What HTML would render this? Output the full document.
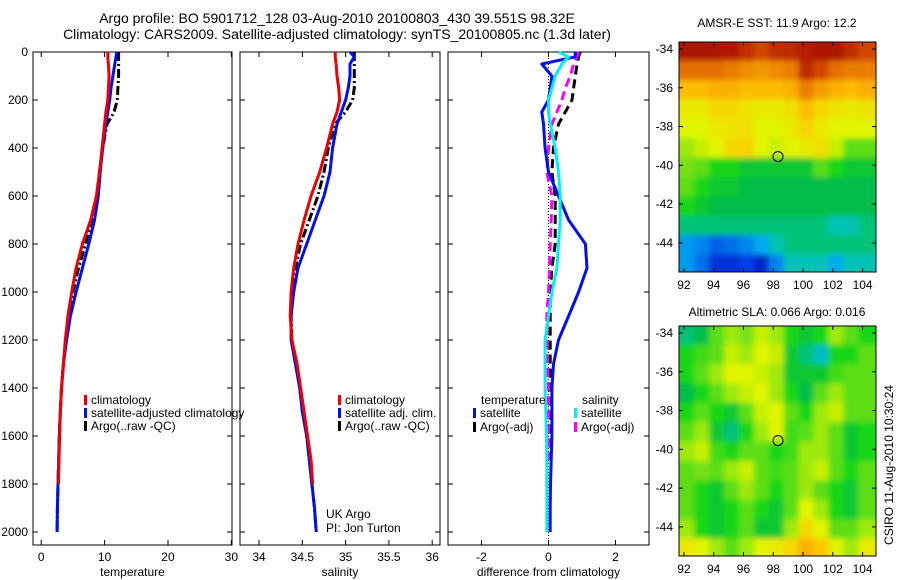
<!DOCTYPE html>
<html><head><meta charset="utf-8"><style>
html,body{margin:0;padding:0;background:#fff;}
svg{display:block;font-family:"Liberation Sans",sans-serif;}
</style></head><body>
<svg id="c" width="900" height="580" viewBox="0 0 900 580">
<text x="337" y="23" font-size="14" text-anchor="middle">Argo profile: BO 5901712_128 03-Aug-2010 20100803_430 39.551S 98.32E</text>
<text x="337" y="39" font-size="14" text-anchor="middle">Climatology: CARS2009. Satellite-adjusted climatology: synTS_20100805.nc (1.3d later)</text>
<text x="777" y="27" font-size="12" text-anchor="middle">AMSR-E SST: 11.9 Argo: 12.2</text>
<text x="777" y="316" font-size="12" text-anchor="middle">Altimetric SLA: 0.066 Argo: 0.016</text>
<text transform="translate(893,465) rotate(-90)" font-size="12" text-anchor="middle">CSIRO 11-Aug-2010 10:30:24</text>
<text x="326" y="518" font-size="12">UK Argo</text>
<text x="326" y="532" font-size="12">PI: Jon Turton</text>
<defs><filter id="bl" filterUnits="userSpaceOnUse" x="600" y="0" width="300" height="580"><feGaussianBlur stdDeviation="3"/></filter>
<clipPath id="cp1"><rect x="679" y="42" width="197" height="230"/></clipPath>
<clipPath id="cp2"><rect x="679" y="326" width="197" height="230"/></clipPath></defs>
<g id="g"></g>
</svg>
<script>
const depths=[0,20,50,100,150,200,250,300,400,500,600,700,800,900,1000,1100,1200,1300,1400,1500,1600,1700,1800,1900,2000];
const tempClim=[10.5,10.5,10.6,10.7,10.6,10.5,10.2,10.0,9.6,9.2,8.7,7.8,6.5,5.5,4.8,4.2,3.8,3.5,3.2,3.0,2.9,2.8,2.7,null,null];
const tempSat=[11.9,11.8,11.6,11.3,11.0,10.8,10.5,10.2,9.7,9.3,9.0,8.4,7.5,6.5,5.5,4.6,4.0,3.5,3.2,3.0,2.85,2.75,2.65,2.55,2.5];
const tempArgo=[12.2,12.2,12.2,12.2,12.1,12.0,11.5,10.4,9.7,9.2,8.8,8.0,7.0,5.9,5.0,4.4,3.9,3.5,3.2,3.0,2.85,2.75,2.65,2.55,2.5];
const salClim=[34.88,34.88,34.89,34.9,34.92,34.93,34.9,34.85,34.78,34.7,34.6,34.52,34.45,34.4,34.37,34.36,34.38,34.44,34.48,34.52,34.56,34.6,34.62,null,null];
const salSat=[35.05,35.1,35.05,35.05,35.03,35.0,34.95,34.9,34.85,34.82,34.75,34.65,34.55,34.45,34.4,34.37,34.37,34.42,34.47,34.5,34.55,34.58,34.61,34.64,34.66];
const salArgo=[35.1,35.1,35.1,35.1,35.1,35.08,35.0,34.88,34.8,34.75,34.68,34.58,34.48,34.42,34.38,34.37,34.38,34.43,34.47,34.51,34.55,34.58,34.61,34.64,34.66];
const dTempSat=[0.8,0.8,-0.2,0.1,0.05,0.0,-0.2,-0.15,-0.1,0.0,0.3,0.6,1.1,1.15,0.9,0.6,0.3,0.15,0.1,0.1,0.1,0.08,0.06,0.05,0.05];
const dTempArgo=[0.95,0.9,0.85,0.8,0.75,0.7,0.5,0.3,0.15,0.1,0.2,0.2,0.2,0.1,0.05,0.05,0.05,0.05,0.05,0.05,0.05,0.05,null,null,null];
const dSalSat=[0.3,0.6,0.4,0.2,0.1,0.0,0.0,0.05,0.2,0.3,0.35,0.35,0.3,0.25,0.1,0.0,-0.1,-0.1,-0.1,-0.08,-0.06,-0.05,-0.05,-0.05,-0.05];
const dSalArgo=[0.9,0.85,0.75,0.65,0.5,0.4,0.25,0.1,0.0,-0.05,0.1,0.08,0.05,0.03,0.0,-0.05,-0.05,-0.03,0.0,0.0,0.0,0.0,null,null,null];
const yTicks=[0,200,400,600,800,1000,1200,1400,1600,1800,2000];
const tTicks=[0,10,20,30];
const sTicks=[34,34.5,35,35.5,36];
const sTickLabels=["34","34.5","35","35.5","36"];
const dTicks=[-2,0,2];
const lonTicks=[92,94,96,98,100,102,104];
const latTicks=[-34,-36,-38,-40,-42,-44];
const sstGrid=[
[0.97,0.97,0.97,0.96,0.92,0.88,0.92,0.93,0.95,0.97,0.97,0.92,0.88],
[0.82,0.82,0.82,0.8,0.78,0.76,0.78,0.8,0.93,0.88,0.82,0.8,0.8],
[0.7,0.7,0.72,0.72,0.7,0.7,0.7,0.72,0.8,0.75,0.72,0.7,0.72],
[0.62,0.62,0.65,0.65,0.63,0.62,0.62,0.64,0.7,0.65,0.63,0.62,0.63],
[0.6,0.6,0.62,0.63,0.64,0.6,0.6,0.62,0.66,0.62,0.6,0.6,0.6],
[0.55,0.58,0.6,0.65,0.66,0.6,0.58,0.6,0.62,0.64,0.58,0.5,0.5],
[0.52,0.5,0.45,0.45,0.42,0.42,0.42,0.42,0.42,0.5,0.45,0.42,0.42],
[0.5,0.45,0.42,0.42,0.4,0.4,0.4,0.4,0.4,0.4,0.4,0.4,0.4],
[0.45,0.42,0.4,0.4,0.4,0.4,0.4,0.4,0.4,0.4,0.4,0.4,0.4],
[0.38,0.38,0.38,0.38,0.38,0.38,0.38,0.38,0.38,0.38,0.35,0.35,0.38],
[0.28,0.25,0.2,0.22,0.25,0.3,0.35,0.38,0.38,0.38,0.38,0.38,0.38],
[0.28,0.22,0.12,0.12,0.15,0.1,0.25,0.35,0.35,0.35,0.3,0.35,0.35]];
const slaGrid=[
[0.38,0.4,0.5,0.55,0.52,0.58,0.55,0.45,0.42,0.45,0.55,0.5,0.45],
[0.45,0.48,0.5,0.58,0.55,0.6,0.58,0.42,0.38,0.34,0.45,0.45,0.5],
[0.45,0.5,0.55,0.6,0.6,0.58,0.55,0.42,0.42,0.42,0.48,0.5,0.5],
[0.4,0.45,0.5,0.55,0.58,0.6,0.55,0.45,0.4,0.5,0.55,0.5,0.5],
[0.45,0.5,0.45,0.42,0.5,0.58,0.6,0.5,0.45,0.55,0.58,0.5,0.5],
[0.5,0.55,0.42,0.38,0.45,0.55,0.6,0.48,0.5,0.55,0.5,0.42,0.45],
[0.55,0.58,0.48,0.45,0.5,0.5,0.45,0.48,0.55,0.55,0.5,0.42,0.45],
[0.5,0.52,0.5,0.55,0.58,0.5,0.48,0.5,0.55,0.58,0.5,0.45,0.5],
[0.5,0.45,0.42,0.5,0.55,0.5,0.45,0.5,0.55,0.5,0.45,0.42,0.5],
[0.5,0.45,0.42,0.45,0.5,0.45,0.42,0.5,0.6,0.55,0.45,0.42,0.5],
[0.55,0.45,0.42,0.45,0.5,0.42,0.42,0.55,0.65,0.6,0.5,0.5,0.55],
[0.62,0.6,0.55,0.5,0.55,0.6,0.62,0.65,0.72,0.68,0.6,0.55,0.62]];
const gridLon0=92.2, gridLat0=-34.1;
const argoLon=98.32, argoLat=-39.55;

const NS="http://www.w3.org/2000/svg";
const G=document.getElementById('g');
function mk(t,a,p){const e=document.createElementNS(NS,t);for(const k in a)e.setAttribute(k,a[k]);(p||G).appendChild(e);return e;}
const Y0=52, PPD=480/2000;
function yD(d){return Y0+d*PPD;}
const panels=[
 {x0:33,x1:232,v0:-1.3,v1:30.1,ticks:tTicks,labs:tTicks.map(String),label:"temperature",name:"temperature"},
 {x0:240,x1:440,v0:33.78,v1:36.09,ticks:sTicks,labs:sTickLabels,label:"salinity",name:"salinity"},
 {x0:448,x1:649,v0:-3,v1:3,ticks:dTicks,labs:dTicks.map(String),label:"difference from climatology",name:"difference"}];
const YB=545;
panels.forEach((p,i)=>{
 p.sx=v=>p.x0+(v-p.v0)/(p.v1-p.v0)*(p.x1-p.x0);
 const r=mk('rect',{x:p.x0,y:Y0,width:p.x1-p.x0,height:YB-Y0,fill:'none',stroke:'#000','stroke-width':1});
 
 p.ticks.forEach((t,j)=>{const x=p.sx(t);
  mk('line',{x1:x,x2:x,y1:Y0,y2:Y0+5,stroke:'#000'});mk('line',{x1:x,x2:x,y1:YB,y2:YB-5,stroke:'#000'});
  const tx=mk('text',{x:x,y:561,'font-size':12,'text-anchor':'middle'});tx.textContent=p.labs[j];
  });
 yTicks.forEach(d=>{const y=yD(d);
  mk('line',{x1:p.x0,x2:p.x0+5,y1:y,y2:y,stroke:'#000'});mk('line',{x1:p.x1,x2:p.x1-5,y1:y,y2:y,stroke:'#000'});
  if(i==0){const tx=mk('text',{x:28,y:y+4,'font-size':12,'text-anchor':'end'});tx.textContent=d;
   }});
 const lb=mk('text',{x:(p.x0+p.x1)/2,y:576,'font-size':12,'text-anchor':'middle'});lb.textContent=p.label;
 
});
mk('line',{x1:panels[2].sx(0),x2:panels[2].sx(0),y1:Y0,y2:YB,stroke:'#000','stroke-dasharray':'1 2'});
function line(p,vals,col,dash,name){
 let d='',pen=false;
 vals.forEach((v,k)=>{if(v==null){pen=false;return;}d+=(pen?'L':'M')+p.sx(v).toFixed(1)+','+yD(depths[k]).toFixed(1);pen=true;});
 const a={d:d,fill:'none',stroke:col,'stroke-width':3,'stroke-linejoin':'round'};
 if(dash)a['stroke-dasharray']=dash;
 const e=mk('path',a);
}
const DD='9 3 2 3';
line(panels[0],tempArgo,'#000',DD,'temperature-argo-line');
line(panels[0],tempSat,'#0010f0',null,'temperature-satellite-line');
line(panels[0],tempClim,'#f00000',null,'temperature-climatology-line');
line(panels[1],salArgo,'#000',DD,'salinity-argo-line');
line(panels[1],salSat,'#0010f0',null,'salinity-satellite-line');
line(panels[1],salClim,'#f00000',null,'salinity-climatology-line');
line(panels[2],dTempArgo,'#000','9 5','temp-diff-argo-line');
line(panels[2],dSalArgo,'#ff00ff','9 5','sal-diff-argo-line');
line(panels[2],dTempSat,'#0010f0',null,'temp-diff-satellite-line');
line(panels[2],dSalSat,'#00f0f0',null,'sal-diff-satellite-line');
function leg(x,y,col,txt,name){
 const r=mk('rect',{x:x,y:y-9,width:3,height:10,fill:col});
 const t=mk('text',{x:x+7,y:y,'font-size':12});t.textContent=txt;}
leg(84,404,'#f00000','climatology','legend-climatology');
leg(84,417,'#0010f0','satellite-adjusted climatology','legend-satellite-adjusted');
leg(84,430,'#000','Argo(..raw -QC)','legend-argo');
leg(338,404,'#f00000','climatology','legend-sal-climatology');
leg(338,417,'#0010f0','satellite adj. clim.','legend-sal-satellite');
leg(338,430,'#000','Argo(..raw -QC)','legend-sal-argo');
let t1=mk('text',{x:481,y:404,'font-size':12});t1.textContent='temperature';
let t2=mk('text',{x:582,y:404,'font-size':12});t2.textContent='salinity';
leg(473,417,'#0010f0','satellite','legend-temp-satellite');
leg(473,431,'#000','Argo(-adj)','legend-temp-argo');
leg(574,417,'#00f0f0','satellite','legend-sal-satellite-diff');
leg(574,431,'#ff00ff','Argo(-adj)','legend-sal-argo-diff');

const cstops=[[0,[0,0,140]],[0.15,[0,60,230]],[0.3,[0,170,240]],[0.36,[0,200,170]],[0.4,[0,190,70]],[0.45,[20,215,20]],[0.52,[120,225,20]],[0.6,[225,245,0]],[0.68,[255,200,0]],[0.78,[240,140,0]],[0.88,[210,70,0]],[1,[160,0,0]]];
function cmap(v){for(let i=1;i<cstops.length;i++){if(v<=cstops[i][0]){const a=cstops[i-1],b=cstops[i],f=(v-a[0])/(b[0]-a[0]);return 'rgb('+a[1].map((c,k)=>Math.round(c+(b[1][k]-c)*f)).join(',')+')';}}return 'rgb(160,0,0)';}
function map(grid,y0,cp,name){
 const X0=679,W=197,H=230,L0=91.67,L1=104.9,A0=-33.64,A1=-45.5;
 const sx=l=>X0+(l-L0)/(L1-L0)*W, sy=a=>y0+(a-A0)/(A1-A0)*H;
 const cg=mk('g',{'clip-path':'url(#'+cp+')'});
 const bg=mk('g',{filter:'url(#bl)'},cg);
 const cw=sx(gridLon0+1)-sx(gridLon0), ch=sy(gridLat0-1)-sy(gridLat0);
 const nr=grid.length, nc=grid[0].length;
 grid.forEach((row,r)=>row.forEach((v,c)=>{
  let x=sx(gridLon0+c)-cw*0.5, y=sy(gridLat0-r)-ch*0.5, w=cw+1, h=ch+1;
  if(c==0){x-=20;w+=20;} if(c==nc-1){w+=30;}
  if(r==0){y-=20;h+=20;} if(r==nr-1){h+=30;}
  const e=mk('rect',{x:x.toFixed(1),y:y.toFixed(1),width:w.toFixed(1),height:h.toFixed(1),fill:cmap(v)},bg);
  }));
 const fr=mk('rect',{x:X0,y:y0,width:W,height:H,fill:'none',stroke:'#000'});
 const m=mk('circle',{cx:sx(argoLon),cy:sy(argoLat),r:5,fill:'none',stroke:'#000'});
 lonTicks.forEach(l=>{const x=sx(l);mk('line',{x1:x,x2:x,y1:y0,y2:y0+4,stroke:'#000'});mk('line',{x1:x,x2:x,y1:y0+H,y2:y0+H-4,stroke:'#000'});
  const t=mk('text',{x:x,y:y0+H+17,'font-size':12,'text-anchor':'middle'});t.textContent=l;});
 latTicks.forEach(a=>{const y=sy(a);mk('line',{x1:X0,x2:X0+4,y1:y,y2:y,stroke:'#000'});mk('line',{x1:X0+W,x2:X0+W-4,y1:y,y2:y,stroke:'#000'});
  const t=mk('text',{x:673,y:y+4,'font-size':12,'text-anchor':'end'});t.textContent=a;});
}
map(sstGrid,42,'cp1','sst-map');
map(slaGrid,326,'cp2','sla-map');
</script>
</body></html>
